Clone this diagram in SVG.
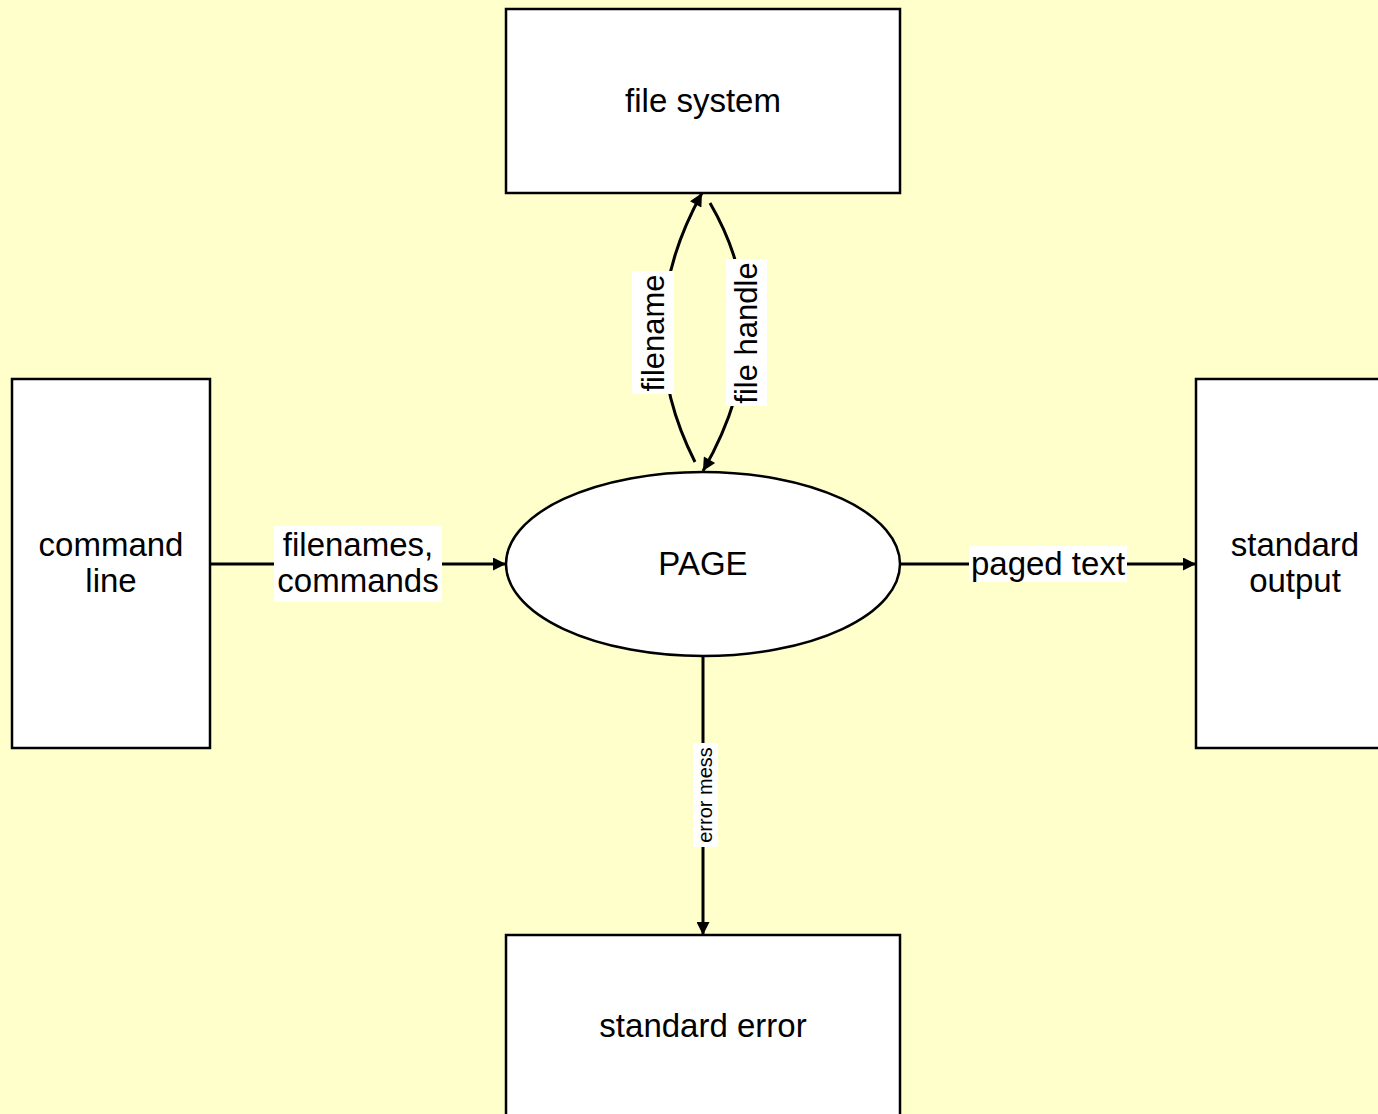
<svg xmlns="http://www.w3.org/2000/svg" width="1378" height="1114" viewBox="0 0 1378 1114">
<style>
.box{fill:#fff;stroke:#000;stroke-width:2.5}
.t{font-family:"Liberation Sans",Arial,sans-serif;font-size:33px;fill:#000;text-anchor:middle}
.r{font-family:"Liberation Sans",Arial,sans-serif;font-size:31px;fill:#000;text-anchor:middle}
.s{font-family:"Liberation Sans",Arial,sans-serif;font-size:20px;fill:#000;text-anchor:middle}
.e{fill:none;stroke:#000;stroke-width:3}
.lb{fill:#fff}
</style>
<defs>
<marker id="ah" viewBox="0 0 10 10" refX="10" refY="5" markerWidth="16" markerHeight="13" markerUnits="userSpaceOnUse" orient="auto">
<path d="M0,0 L10,5 L0,10 z" fill="#000"/>
</marker>
</defs>
<rect width="1378" height="1114" fill="#ffffcc"/>
<g id="file-system"><rect class="box" x="506" y="9" width="394" height="184"/><text class="t" x="703" y="112">file system</text></g>
<g id="command-line"><rect class="box" x="12" y="379" width="198" height="369"/><text class="t" x="111" y="556">command</text><text class="t" x="111" y="592">line</text></g>
<g id="standard-output"><rect class="box" x="1196" y="379" width="200" height="369"/><text class="t" x="1295" y="556">standard</text><text class="t" x="1295" y="592">output</text></g>
<g id="page"><ellipse class="box" cx="703" cy="564" rx="197" ry="92"/><text class="t" x="703" y="575">PAGE</text></g>
<g id="standard-error"><rect class="box" x="506" y="935" width="394" height="190"/><text class="t" x="703" y="1037">standard error</text></g>
<g id="connectors">
<line class="e" x1="210" y1="564" x2="506" y2="564" marker-end="url(#ah)"/>
<line class="e" x1="900" y1="564" x2="1196" y2="564" marker-end="url(#ah)"/>
<line class="e" x1="703" y1="656" x2="703" y2="935" marker-end="url(#ah)"/>
<path class="e" d="M695,462 Q627,328 702,193" marker-end="url(#ah)"/>
<path class="e" d="M710,203 Q784,330 703,471" marker-end="url(#ah)"/>
<rect class="lb" x="274" y="526" width="168" height="76"/>
<text class="t" x="358" y="556">filenames,</text><text class="t" x="358" y="592">commands</text>
<rect class="lb" x="969" y="546" width="158" height="36"/>
<text class="t" x="1048" y="575">paged text</text>
<rect class="lb" x="632" y="271" width="42" height="123"/>
<text class="r" transform="translate(664,333) rotate(-90)">filename</text>
<rect class="lb" x="726" y="259" width="41" height="147"/>
<text class="r" transform="translate(757,333) rotate(-90)">file handle</text>
<rect class="lb" x="693" y="743" width="25" height="104"/>
<text class="s" transform="translate(712,795) rotate(-90)">error mess</text>
</g>
</svg>
